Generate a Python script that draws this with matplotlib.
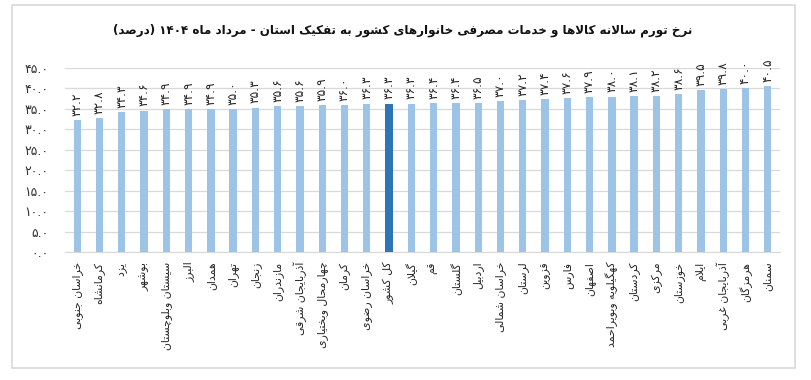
import re
import matplotlib
matplotlib.use("Agg")
import matplotlib.pyplot as plt
from matplotlib.patches import Rectangle
from matplotlib import font_manager

# ---------------- data ----------------
title_text = "نرخ تورم سالانه کالاها و خدمات مصرفی خانوارهای کشور به تفکیک استان - مرداد ماه ۱۴۰۴ (درصد)"
provinces = [
    "خراسان جنوبی", "کرمانشاه", "یزد", "بوشهر", "سیستان وبلوچستان", "البرز",
    "همدان", "تهران", "زنجان", "مازندران", "آذربایجان شرقی", "چهارمحال وبختیاری",
    "کرمان", "خراسان رضوی", "کل کشور", "گیلان", "قم", "گلستان", "اردبیل",
    "خراسان شمالی", "لرستان", "قزوین", "فارس", "اصفهان", "کهگیلویه وبویراحمد",
    "کردستان", "مرکزی", "خوزستان", "ایلام", "آذربایجان غربی", "هرمزگان", "سمنان",
]
inflation = [
    32.2, 32.8, 34.3, 34.6, 34.9, 34.9, 34.9, 35.0, 35.3, 35.6, 35.6, 35.9,
    36.0, 36.3, 36.3, 36.3, 36.4, 36.4, 36.5, 37.0, 37.2, 37.4, 37.6, 37.9,
    38.0, 38.1, 38.2, 38.6, 39.5, 39.8, 40.0, 40.5,
]
highlight = "کل کشور"
y_ticks = [0, 5, 10, 15, 20, 25, 30, 35, 40, 45]

# ---------------- Persian text shaping (presentation forms + RTL order) ----------------
FORMS = {
    'ء': ('\uFE80',),
    'آ': ('\uFE81', '\uFE82'), 'أ': ('\uFE83', '\uFE84'), 'ؤ': ('\uFE85', '\uFE86'),
    'إ': ('\uFE87', '\uFE88'), 'ئ': ('\uFE89', '\uFE8A', '\uFE8B', '\uFE8C'),
    'ا': ('\uFE8D', '\uFE8E'), 'ب': ('\uFE8F', '\uFE90', '\uFE91', '\uFE92'),
    'ة': ('\uFE93', '\uFE94'), 'ت': ('\uFE95', '\uFE96', '\uFE97', '\uFE98'),
    'ث': ('\uFE99', '\uFE9A', '\uFE9B', '\uFE9C'), 'ج': ('\uFE9D', '\uFE9E', '\uFE9F', '\uFEA0'),
    'ح': ('\uFEA1', '\uFEA2', '\uFEA3', '\uFEA4'), 'خ': ('\uFEA5', '\uFEA6', '\uFEA7', '\uFEA8'),
    'د': ('\uFEA9', '\uFEAA'), 'ذ': ('\uFEAB', '\uFEAC'), 'ر': ('\uFEAD', '\uFEAE'),
    'ز': ('\uFEAF', '\uFEB0'), 'س': ('\uFEB1', '\uFEB2', '\uFEB3', '\uFEB4'),
    'ش': ('\uFEB5', '\uFEB6', '\uFEB7', '\uFEB8'), 'ص': ('\uFEB9', '\uFEBA', '\uFEBB', '\uFEBC'),
    'ض': ('\uFEBD', '\uFEBE', '\uFEBF', '\uFEC0'), 'ط': ('\uFEC1', '\uFEC2', '\uFEC3', '\uFEC4'),
    'ظ': ('\uFEC5', '\uFEC6', '\uFEC7', '\uFEC8'), 'ع': ('\uFEC9', '\uFECA', '\uFECB', '\uFECC'),
    'غ': ('\uFECD', '\uFECE', '\uFECF', '\uFED0'), 'ف': ('\uFED1', '\uFED2', '\uFED3', '\uFED4'),
    'ق': ('\uFED5', '\uFED6', '\uFED7', '\uFED8'), 'ك': ('\uFED9', '\uFEDA', '\uFEDB', '\uFEDC'),
    'ل': ('\uFEDD', '\uFEDE', '\uFEDF', '\uFEE0'), 'م': ('\uFEE1', '\uFEE2', '\uFEE3', '\uFEE4'),
    'ن': ('\uFEE5', '\uFEE6', '\uFEE7', '\uFEE8'), 'ه': ('\uFEE9', '\uFEEA', '\uFEEB', '\uFEEC'),
    'و': ('\uFEED', '\uFEEE'), 'ى': ('\uFEEF', '\uFEF0'),
    'ي': ('\uFEF1', '\uFEF2', '\uFEF3', '\uFEF4'),
    'پ': ('\uFB56', '\uFB57', '\uFB58', '\uFB59'), 'چ': ('\uFB7A', '\uFB7B', '\uFB7C', '\uFB7D'),
    'ژ': ('\uFB8A', '\uFB8B'), 'ک': ('\uFB8E', '\uFB8F', '\uFB90', '\uFB91'),
    'گ': ('\uFB92', '\uFB93', '\uFB94', '\uFB95'), 'ی': ('\uFBFC', '\uFBFD', '\uFBFE', '\uFBFF'),
}
LAMALEF = {'ا': ('\uFEFB', '\uFEFC'), 'آ': ('\uFEF5', '\uFEF6'),
           'أ': ('\uFEF7', '\uFEF8'), 'إ': ('\uFEF9', '\uFEFA')}


def _dual(c):
    return c in FORMS and len(FORMS[c]) == 4


def shape(text):
    out = []
    n = len(text)
    i = 0
    while i < n:
        c = text[i]
        if c not in FORMS:
            out.append(c)
            i += 1
            continue
        prev = text[i - 1] if i > 0 else None
        join_prev = prev is not None and _dual(prev)
        if c == 'ل' and i + 1 < n and text[i + 1] in LAMALEF:
            lig = LAMALEF[text[i + 1]]
            out.append(lig[1] if join_prev else lig[0])
            i += 2
            continue
        nxt = text[i + 1] if i + 1 < n else None
        join_next = _dual(c) and nxt is not None and nxt in FORMS
        f = FORMS[c]
        if join_prev and join_next:
            out.append(f[3])
        elif join_prev:
            out.append(f[1])
        elif join_next:
            out.append(f[2])
        else:
            out.append(f[0])
        i += 1
    return ''.join(out)


MIRROR = {'(': ')', ')': '('}


def fa(text):
    s = shape(text)
    tokens = re.findall(r'[0-9۰-۹]+|[^0-9۰-۹]+', s)
    vis = []
    for t in reversed(tokens):
        if re.fullmatch(r'[0-9۰-۹]+', t):
            vis.append(t)
        else:
            vis.append(''.join(MIRROR.get(ch, ch) for ch in reversed(t)))
    return ''.join(vis)


FA_DIGITS = str.maketrans('0123456789', '۰۱۲۳۴۵۶۷۸۹')


def fa_num(v):
    return f"{v:.1f}".translate(FA_DIGITS)


# ---------------- plot ----------------
plt.rcParams['font.family'] = ['DejaVu Sans']

names = {f.name for f in font_manager.fontManager.ttflist}
title_stretch = 'condensed' if 'DejaVu Sans Condensed' in names else 'normal'

fig = plt.figure(figsize=(8.11, 3.80), dpi=100)
ax = fig.add_axes([65 / 811, 1 - 252 / 380, (780 - 65) / 811, (252 - 68) / 380])

x = list(range(len(provinces)))
colors = ['#2E75B6' if p == highlight else '#9DC3E6' for p in provinces]
bars = ax.bar(x, inflation, width=0.33, color=colors, zorder=3)

ax.bar_label(bars, labels=[fa_num(v) for v in inflation], rotation=90,
             padding=3, fontsize=8.8, color='#262626')

ax.set_ylim(0, 45)
ax.set_xlim(-0.55, len(provinces) - 0.45)
ax.set_yticks(y_ticks)
ax.set_yticklabels([fa_num(v) for v in y_ticks], fontsize=9, color='#333333')
ax.set_xticks(x)
ax.set_xticklabels([fa(p) for p in provinces], rotation=90, fontsize=7.8,
                   color='#262626', va='top', ha='center')
ax.tick_params(axis='y', length=0, pad=12)
ax.tick_params(axis='x', length=0, pad=7)
ax.grid(axis='y', color='#D9D9D9', linewidth=0.9, zorder=0)
for s in ['top', 'right', 'left']:
    ax.spines[s].set_visible(False)
ax.spines['bottom'].set_color('#D9D9D9')

fig.text(0.497, 1 - 30 / 380, fa(title_text), ha='center', va='center',
         fontsize=8.6, fontweight='bold', fontstretch=title_stretch, color='#111111')

fig.patches.append(Rectangle((12 / 811, 1 - 368 / 380), 783 / 811, 363 / 380,
                             transform=fig.transFigure, fill=False,
                             edgecolor='#D9D9D9', linewidth=1.2))

fig.savefig('out.png', dpi=100, facecolor='white')
